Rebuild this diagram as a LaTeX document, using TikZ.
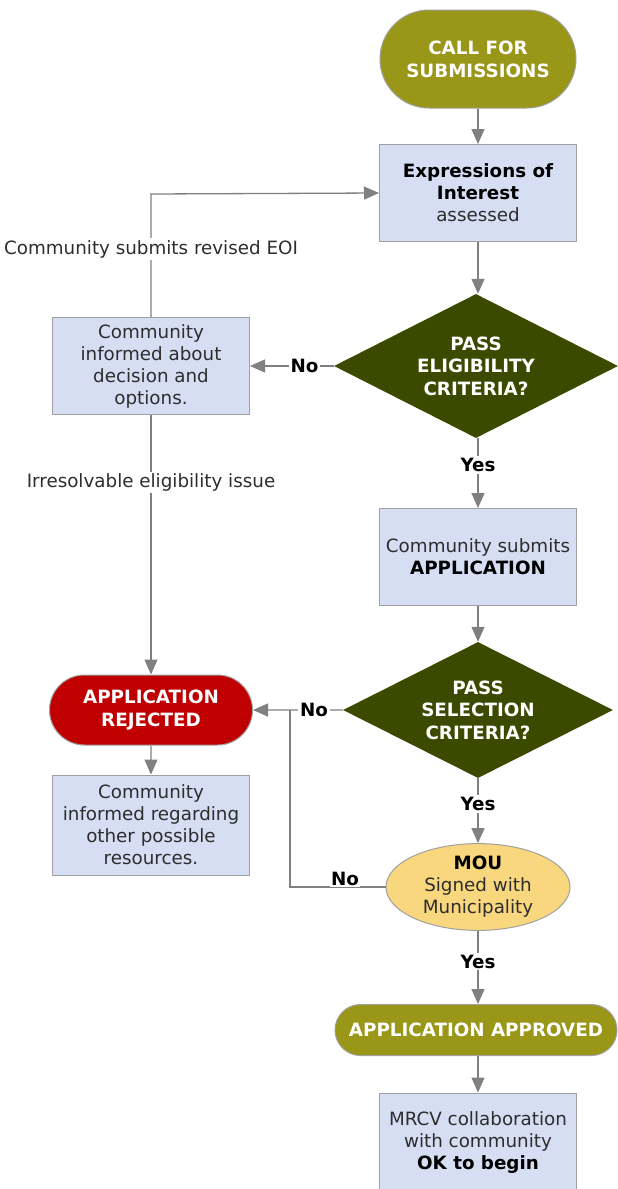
\documentclass[tikz,border=0pt]{standalone}
\usepackage{fontspec}
\setmainfont{DejaVu Sans}
\usetikzlibrary{arrows.meta,shapes.geometric,shapes.misc}
\definecolor{olive}{RGB}{154,150,24}
\definecolor{dgreen}{RGB}{60,74,0}
\definecolor{rejred}{RGB}{192,0,0}
\definecolor{boxfill}{RGB}{214,222,244}
\definecolor{moufill}{RGB}{249,215,126}
\definecolor{bordergrey}{RGB}{160,160,160}
\definecolor{arrowgrey}{RGB}{128,128,128}
\definecolor{txtgrey}{RGB}{45,45,45}
\tikzset{
  every node/.style={font=\fontsize{18.3}{22}\selectfont},
  procbox/.style={rectangle, draw=bordergrey, line width=1pt, fill=boxfill, text=txtgrey,
    minimum width=197pt, minimum height=97pt, align=center, inner sep=1pt},
  terminal/.style={rounded rectangle, draw=bordergrey, line width=1pt, text=white,
    font=\fontsize{18.3}{23}\selectfont\bfseries, align=center, inner sep=1pt},
  decision/.style={diamond, fill=dgreen, text=white, inner sep=-40pt,
    font=\fontsize{18.3}{22.5}\selectfont\bfseries, align=center},
  flow/.style={draw=arrowgrey, line width=1.3pt, -{Triangle[width=13pt,length=15pt]}},
  plain/.style={draw=arrowgrey, line width=1.3pt},
  lab/.style={fill=white, inner sep=2pt, text=black, font=\fontsize{18.3}{20}\selectfont\bfseries},
  note/.style={fill=white, inner sep=2pt, text=txtgrey}
}
\begin{document}
\begin{tikzpicture}[x=1pt,y=-1pt]
\useasboundingbox (0,0) rectangle (618,1189);
% nodes
\node[terminal, fill=olive, minimum width=198pt, minimum height=98pt] (call) at (478,59) {CALL FOR\\SUBMISSIONS};
\node[procbox] (eoi) at (478,193) {\textbf{\color{black}Expressions of}\\\textbf{\color{black}Interest}\\assessed};
\node[decision, minimum width=284pt, minimum height=144pt] (d1) at (476,366) {PASS\\ELIGIBILITY\\CRITERIA?};
\node[procbox] (inf1) at (151,366) {Community\\informed about\\decision and\\options.};
\node[procbox] (app) at (478,557) {Community submits\\\textbf{\color{black}APPLICATION}};
\node[decision, minimum width=270pt, minimum height=136pt] (d2) at (478,710) {PASS\\SELECTION\\CRITERIA?};
\node[terminal, fill=rejred, minimum width=205pt, minimum height=70pt] (rej) at (151,710) {APPLICATION\\REJECTED};
\node[procbox, minimum height=100pt] (inf2) at (151,825) {Community\\informed regarding\\other possible\\resources.};
\node[ellipse, draw=bordergrey, line width=1pt, fill=moufill, text=txtgrey, minimum width=184pt, minimum height=85pt, inner sep=0pt, align=center] (mou) at (478,887) {\textbf{\color{black}MOU}\\Signed with\\Municipality};
\node[terminal, fill=olive, minimum width=284pt, minimum height=51pt] (appr) at (476,1030) {APPLICATION APPROVED};
\node[procbox, minimum height=100pt] (mrcv) at (478,1143) {MRCV collaboration\\with community\\\textbf{\color{black}OK to begin}};
\coordinate (j) at (290,710);
\coordinate (c1) at (151,194);
% connectors
\draw[flow] (call) -- (eoi);
\draw[flow] (eoi.south) -- (eoi.south |- d1.north);
\draw[flow] (d1) -- node[lab, pos=0.35] {No} (inf1);
\draw[flow] (inf1.north) -- node[note, pos=0.55] {Community submits revised EOI} (c1) -- (eoi.west);
\draw[flow] (d1.south -| app.north) -- node[lab, pos=0.38] {Yes} (app.north);
\draw[flow] (inf1) -- node[note, pos=0.26] {Irresolvable eligibility issue} (rej);
\draw[flow] (rej) -- (inf2);
\draw[flow] (app) -- (d2);
\draw[flow] (d2) -- node[lab, pos=0.32] {No} (rej);
\draw[flow] (d2) -- node[lab, pos=0.4] {Yes} (mou);
\draw[plain] (mou.west) -| (j);
\node[lab, anchor=south, inner sep=1pt] (nolab) at (345,887) {No};
\draw[flow] (mou.south) -- node[lab, pos=0.42] {Yes} (mou.south |- appr.north);
\draw[flow] (appr.south -| mrcv.north) -- (mrcv.north);
\end{tikzpicture}
\end{document}
